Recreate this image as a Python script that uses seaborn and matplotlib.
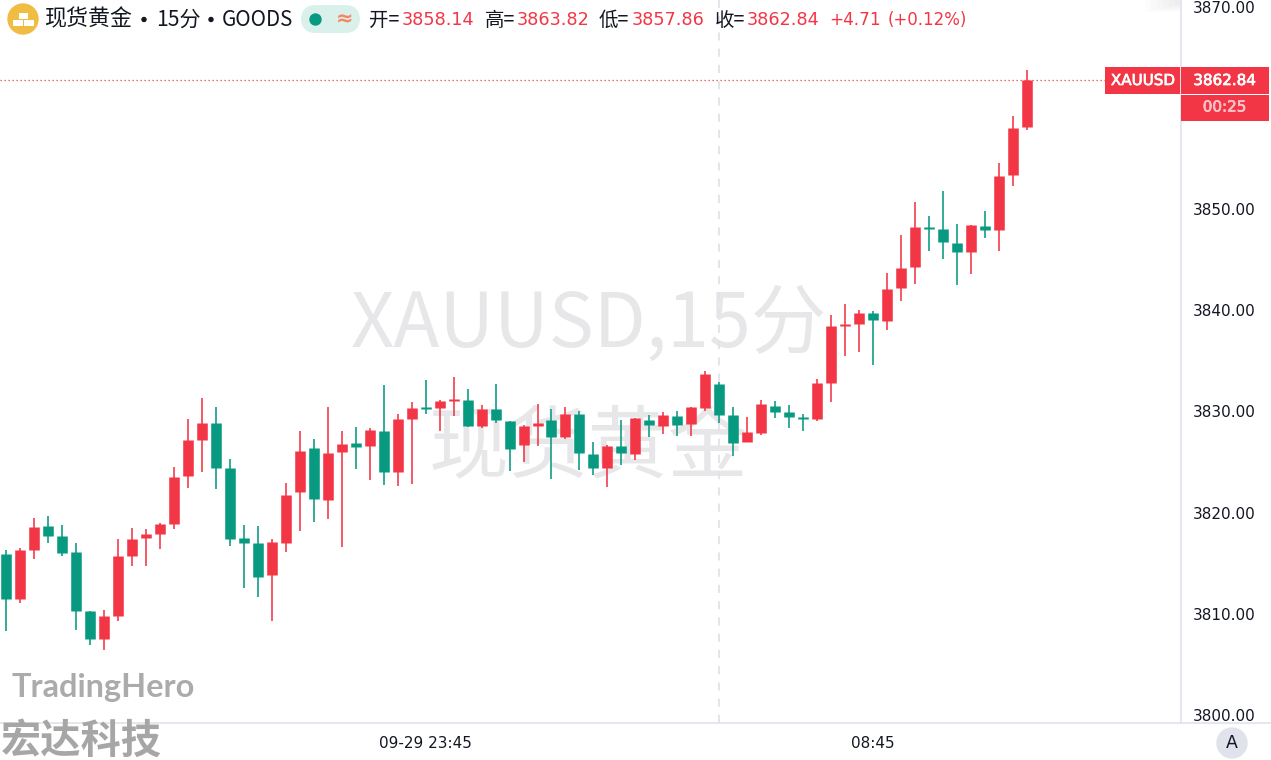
import numpy as np
import pandas as pd
import seaborn as sns
import matplotlib
matplotlib.use('Agg')
import matplotlib.pyplot as plt
import matplotlib.patheffects as pe
from matplotlib.patches import Circle, Rectangle, FancyBboxPatch

# ============================================================
# DATA: XAUUSD 15 min candles
# ============================================================
opens = [3815.86, 3811.47, 3816.29, 3818.63, 3817.67, 3816.06, 3810.28, 3807.51, 3809.75, 3815.66,
         3817.51, 3817.84, 3818.86, 3823.58, 3827.21, 3828.83, 3824.37, 3817.48, 3816.95, 3813.85,
         3816.98, 3822.06, 3826.35, 3821.24, 3825.96, 3826.85, 3826.62, 3828.10, 3824.04, 3829.29,
         3830.48, 3830.31, 3831.07, 3831.14, 3828.57, 3830.25, 3829.09, 3826.72, 3828.60, 3829.13,
         3827.44, 3829.79, 3825.79, 3824.41, 3826.55, 3825.79, 3829.13, 3828.57, 3829.56, 3828.76,
         3830.38, 3832.69, 3829.68, 3826.95, 3827.90, 3830.51, 3829.92, 3829.49, 3829.22, 3832.85,
         3838.43, 3838.69, 3839.75, 3838.93, 3842.23, 3844.30, 3848.23, 3848.03, 3846.65, 3845.76,
         3848.40, 3848.00, 3853.41, 3858.14]
highs = [3816.29, 3816.45, 3819.42, 3819.69, 3818.73, 3817.01, 3810.28, 3810.31, 3817.34, 3818.47,
         3818.33, 3818.93, 3824.51, 3829.23, 3831.30, 3830.45, 3825.30, 3818.80, 3818.70, 3817.38,
         3822.89, 3828.04, 3827.25, 3830.45, 3828.04, 3828.43, 3828.33, 3832.59, 3829.72, 3830.94,
         3833.12, 3831.14, 3833.45, 3832.20, 3830.61, 3832.76, 3829.09, 3828.63, 3830.71, 3830.22,
         3830.48, 3830.08, 3826.98, 3826.68, 3829.16, 3829.39, 3829.65, 3829.92, 3830.05, 3830.48,
         3833.97, 3832.92, 3830.41, 3829.49, 3831.10, 3831.04, 3830.67, 3829.72, 3833.22, 3839.52,
         3840.61, 3840.05, 3839.92, 3843.68, 3847.44, 3850.77, 3849.39, 3851.86, 3848.53, 3848.43,
         3849.82, 3854.63, 3859.26, 3863.82]
lows = [3808.30, 3811.07, 3815.36, 3816.95, 3815.73, 3808.40, 3806.85, 3806.39, 3809.29, 3814.74,
        3814.70, 3816.35, 3818.37, 3822.39, 3824.01, 3822.36, 3816.72, 3812.53, 3811.67, 3809.29,
        3816.09, 3818.20, 3819.06, 3819.36, 3816.59, 3824.34, 3823.19, 3822.69, 3822.66, 3822.86,
        3829.75, 3828.10, 3829.59, 3828.50, 3828.33, 3828.90, 3824.11, 3825.03, 3826.62, 3823.32,
        3827.31, 3824.24, 3823.75, 3822.56, 3824.67, 3825.23, 3827.48, 3827.81, 3827.61, 3827.61,
        3830.08, 3828.89, 3825.59, 3826.95, 3827.64, 3829.39, 3828.40, 3828.10, 3829.09, 3830.97,
        3835.53, 3835.92, 3834.63, 3838.03, 3840.97, 3842.65, 3845.89, 3845.06, 3842.56, 3843.64,
        3847.21, 3845.89, 3852.36, 3857.86]
closes = [3811.47, 3816.26, 3818.60, 3817.67, 3815.99, 3810.25, 3807.48, 3809.75, 3815.66, 3817.41,
          3817.87, 3818.83, 3823.55, 3827.15, 3828.86, 3824.41, 3817.41, 3816.95, 3813.58, 3817.08,
          3821.77, 3826.09, 3821.30, 3825.86, 3826.78, 3826.49, 3828.14, 3824.01, 3829.29, 3830.38,
          3830.28, 3831.01, 3831.21, 3828.57, 3830.25, 3829.19, 3826.26, 3828.60, 3828.83, 3827.48,
          3829.75, 3825.89, 3824.44, 3826.59, 3825.86, 3829.32, 3828.70, 3829.65, 3828.70, 3830.44,
          3833.71, 3829.68, 3826.85, 3827.94, 3830.71, 3829.95, 3829.45, 3829.22, 3832.79, 3838.50,
          3838.63, 3839.72, 3839.02, 3842.16, 3844.17, 3848.23, 3848.07, 3846.81, 3845.76, 3848.43,
          3847.97, 3853.35, 3858.03, 3862.84]
last_price = 3862.84
price_ticks = [3800, 3810, 3820, 3830, 3840, 3850, 3860, 3870]
price_labels = ['3800.00', '3810.00', '3820.00', '3830.00', '3840.00', '3850.00', '', '3870.00']
time_ticks = [30, 62]
time_labels = ['09-29 23:45', '08:45']
crosshair_bar = 51

RED = '#F23645'
GREEN = '#089981'
LINE = '#E0E3EB'
NUM = 'DejaVu Sans'

sns.set_theme(style='white')
plt.rcParams['font.family'] = ['Noto Sans CJK SC', 'DejaVu Sans']

df = pd.DataFrame({'bar': range(len(opens)), 'open': opens, 'high': highs, 'low': lows, 'close': closes})
df['side'] = np.where(df['close'] >= df['open'], 'up', 'down')
colors = {'up': RED, 'down': GREEN}

# one row per end of wick / end of body, seaborn draws each bar as its own line
wicks = df.melt(id_vars=['bar', 'side'], value_vars=['low', 'high'], value_name='price')
bodies = df.melt(id_vars=['bar', 'side'], value_vars=['open', 'close'], value_name='price')

fig = plt.figure(figsize=(12.71, 7.6), dpi=100)
ax = fig.add_axes([0, 1 - 723 / 760, 1181 / 1271, 723 / 760], zorder=1)
ax.patch.set_alpha(0)

sns.lineplot(data=wicks, x='bar', y='price', units='bar', hue='side', palette=colors, estimator=None,
             linewidth=1.15, legend=False, solid_capstyle='butt', ax=ax, zorder=3)
sns.lineplot(data=bodies, x='bar', y='price', units='bar', hue='side', palette=colors, estimator=None,
             linewidth=7.6, legend=False, solid_capstyle='butt', ax=ax, zorder=4)

ax.set_xlim(-0.45, 84.03)
ax.set_ylim(3799.16, 3870.74)
ax.set_xlabel('')
ax.set_ylabel('')
ax.yaxis.tick_right()
ax.set_yticks(price_ticks, price_labels)
ax.set_xticks(time_ticks, time_labels)
ax.tick_params(axis='y', length=0, pad=8.5, labelsize=11, labelcolor='#131722', labelfontfamily=NUM)
ax.tick_params(axis='x', length=0, pad=9.5, labelsize=11, labelcolor='#131722', labelfontfamily=NUM)
for side in ['top', 'left', 'bottom']:
    ax.spines[side].set_visible(False)
ax.spines['right'].set_color(LINE)
ax.spines['right'].set_linewidth(1.2)

ax.axhline(last_price, color=RED, linewidth=0.9, linestyle=(0, (1, 2.2)), zorder=2)
ax.axvline(crosshair_bar, color=LINE, linewidth=1.3, linestyle=(0, (4.5, 4.5)), zorder=2)

# ------------------------------------------------------------
# pixel overlay for everything that is not the chart itself
# ------------------------------------------------------------
ui = fig.add_axes([0, 0, 1, 1], zorder=2)
ui.set_xlim(0, 1271)
ui.set_ylim(760, 0)
ui.axis('off')

# watermark sits behind the candles
ax.text(589, 325, 'XAUUSD,15分', transform=ui.transData, fontsize=54.5, color='#E7E7E9',
        ha='center', va='center', zorder=1)
ax.text(588, 449, '现货黄金', transform=ui.transData, fontsize=57.5, color='#E7E7E9',
        ha='center', va='center', zorder=1)

# faint shadow in the corner above the price scale
for k in range(6):
    ax.add_patch(Rectangle((1145 + k * 6, 0), 35 - k * 6, 12 - k * 1.6, transform=ui.transData,
                           color='#808080', alpha=0.025, linewidth=0, zorder=1))

ui.plot([0, 1271], [722.5, 722.5], color=LINE, linewidth=1.2)

# header
ui.add_patch(Circle((23, 19), 15, color='#F0BC42'))
for bx, by in [(18.5, 13), (13, 20), (24, 20)]:
    ui.add_patch(Rectangle((bx, by), 9.5, 5.5, color='white', linewidth=0))
ui.text(44, 19.5, '现货黄金', fontsize=15.8, color='#131722', va='center')
ui.text(156, 19.5, '15分', fontsize=15.2, color='#131722', va='center')
ui.text(222, 19.5, 'GOODS', fontsize=14.8, color='#131722', va='center')
for x in [144, 211]:
    ui.add_patch(Circle((x, 19.5), 2, color='#131722'))
ui.add_patch(FancyBboxPatch((308, 12), 45, 14, boxstyle='round,pad=0,rounding_size=7',
                            mutation_aspect=1, facecolor='#DAF0EB', edgecolor='#DAF0EB', linewidth=10))
ui.add_patch(Circle((315.5, 19.5), 5.5, color=GREEN))
ui.text(345, 19, '≈', fontsize=15, color='#F7855F', ha='center', va='center', family=NUM, fontweight='bold')

for x, s in [(369, '开='), (485, '高='), (599, '低='), (715, '收=')]:
    ui.text(x, 20, s, fontsize=14, color='#131722', va='center')
for x, s in [(402, '3858.14'), (517, '3863.82'), (632, '3857.86'), (747, '3862.84')]:
    ui.text(x, 20, s, fontsize=12.7, color=RED, va='center', family=NUM)
ui.text(829, 20, '+4.71', fontsize=12.2, color=RED, va='center', family=NUM)
ui.text(888, 20, '(+0.12%)', fontsize=12, color=RED, va='center', family=NUM)

# last price tags, a thin stroke gives the medium weight of the reference
ui.add_patch(Rectangle((1105, 67), 75, 27, color=RED, linewidth=0))
ui.add_patch(Rectangle((1181, 67), 88, 27, color=RED, linewidth=0))
ui.add_patch(Rectangle((1181, 94.5), 88, 26, color=RED, linewidth=0))
for x, y, s, c in [(1143, 80.5, 'XAUUSD', 'white'), (1224.5, 80.5, '3862.84', 'white'),
                   (1224.5, 107, '00:25', '#FBC3C8')]:
    ui.text(x, y, s, fontsize=10.9, color=c, ha='center', va='center', family=NUM,
            path_effects=[pe.withStroke(linewidth=0.5, foreground=c)])

# auto scale button
ui.add_patch(Circle((1232, 743), 15, color=LINE))
ui.text(1232, 743, 'A', fontsize=12.5, color='#131722', ha='center', va='center', family=NUM)

# logos
ui.text(11, 688, 'TradingHero', fontsize=23.4, color='#ABABAB', fontweight='bold', va='center', family='Lato')
ui.text(1, 741, '宏达科技', fontsize=29, color='#A6A6A6', fontweight='bold', va='center')

fig.savefig('out.png', dpi=100)
